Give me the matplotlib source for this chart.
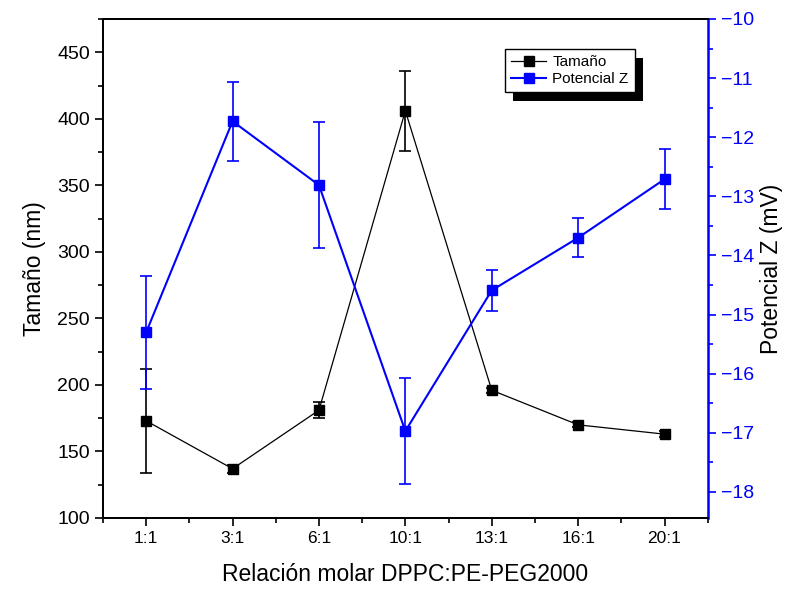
import matplotlib
matplotlib.use('Agg')
import matplotlib.pyplot as plt
from matplotlib.patches import Rectangle
from matplotlib.lines import Line2D
from matplotlib.ticker import MultipleLocator
from matplotlib import rcParams
rcParams['font.family'] = ['Liberation Sans', 'DejaVu Sans']

relacion = ['1:1', '3:1', '6:1', '10:1', '13:1', '16:1', '20:1']
tamano = [173, 137, 181, 406, 196, 170, 163]
tamano_err = [39, 3, 6, 30, 2, 2, 2]
potencial = [-15.3, -11.73, -12.81, -16.97, -14.59, -13.70, -12.71]
potencial_err = [0.95, 0.67, 1.06, 0.89, 0.35, 0.33, 0.51]

x = list(range(len(relacion)))
azul = '#0000ff'

fig = plt.figure(figsize=(7.89, 5.93), dpi=100)
ax = fig.add_axes([0.1305, 0.1265, 0.7665, 0.8415])
ax2 = ax.twinx()

ax.errorbar(x, tamano, yerr=tamano_err, color='black', lw=0.9, marker='s', ms=7,
            capsize=4, elinewidth=1.2, capthick=1.2, zorder=3)
ax2.errorbar(x, potencial, yerr=potencial_err, color=azul, lw=1.5, marker='s', ms=7,
             capsize=4, elinewidth=1.2, capthick=1.2, zorder=3)

ax.set_xlim(-0.5, 6.5)
ax.set_ylim(100, 475)
ax2.set_ylim(-18.44, -10)

ax.set_xticks(x)
ax.set_xticklabels(relacion)
ax.xaxis.set_minor_locator(MultipleLocator(0.5))
ax.yaxis.set_major_locator(MultipleLocator(50))
ax.yaxis.set_minor_locator(MultipleLocator(25))
ax2.set_yticks(range(-18, -9))
ax2.yaxis.set_minor_locator(MultipleLocator(0.5))

ax.tick_params(axis='both', which='major', direction='out', length=6, width=1.2)
ax.tick_params(axis='x', labelsize=12.5)
ax.tick_params(axis='y', labelsize=14)
ax.tick_params(axis='both', which='minor', direction='out', length=3.5, width=1.2)
ax2.tick_params(axis='y', which='major', direction='out', length=6, width=1.2, labelsize=14,
                colors=azul)
ax2.tick_params(axis='y', which='minor', direction='out', length=3.5, width=1.2, colors=azul)

for s in ['left', 'bottom', 'top']:
    ax.spines[s].set_linewidth(1.3)
    ax2.spines[s].set_linewidth(1.3)
ax2.spines['right'].set_color(azul)
ax2.spines['right'].set_linewidth(1.8)

ax.set_xlabel('Relación molar DPPC:PE-PEG2000', fontsize=16.5, labelpad=12)
ax.set_ylabel('Tamaño (nm)', fontsize=16.5, labelpad=8)
ax2.set_ylabel('Potencial Z (mV)', fontsize=16.5, labelpad=4)

handles = [Line2D([], [], color='black', lw=0.9, marker='s', ms=7),
           Line2D([], [], color=azul, lw=1.5, marker='s', ms=7)]
leg = ax2.legend(handles, ['Tamaño', 'Potencial Z'], loc='upper left',
                 bbox_to_anchor=(0.6645, 0.94), fontsize=11, frameon=True,
                 fancybox=False, edgecolor='black', framealpha=1, borderpad=0.4,
                 handlelength=2.3, handletextpad=0.4, labelspacing=0.2, borderaxespad=0)
leg.get_frame().set_linewidth(1.0)
leg.set_zorder(10)

fig.canvas.draw()
bb = leg.get_window_extent().transformed(fig.transFigure.inverted())
dx, dy = 8 / 789, 9 / 593
fig.patches.append(Rectangle((bb.x0 + dx, bb.y0 - dy), bb.width, bb.height,
                             transform=fig.transFigure, facecolor='black',
                             edgecolor='none', zorder=0))
ax.set_zorder(1)
ax.patch.set_visible(False)
ax2.set_zorder(2)

fig.savefig('out.png', dpi=100)
